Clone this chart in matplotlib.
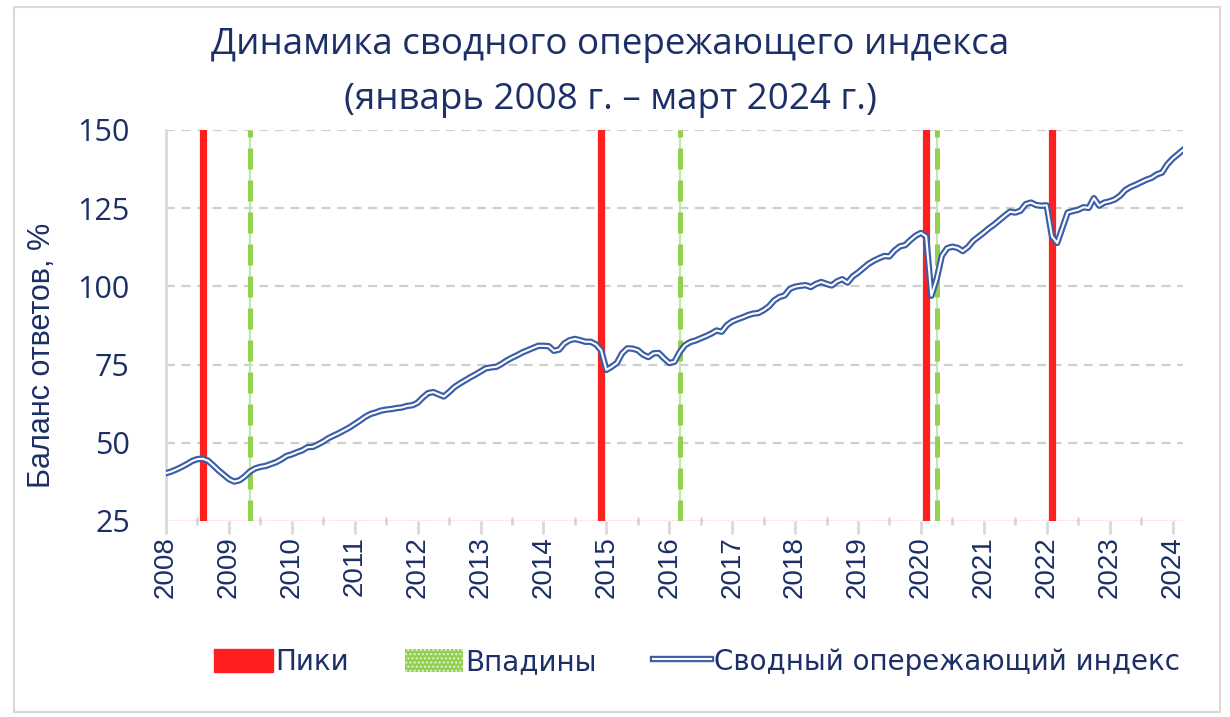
import numpy as np
import pandas as pd
import matplotlib
matplotlib.use("Agg")
import matplotlib.pyplot as plt
from matplotlib.patches import Patch, Rectangle
from matplotlib.lines import Line2D
from matplotlib.legend_handler import HandlerTuple

# ── Data ────────────────────────────────────────────────────────────────────
START = "2008-01"
# monthly values, one row per year
index_values = [
    40.3, 40.8, 41.5, 42.3, 43.2, 44.2, 44.8, 44.9, 44.3, 42.8, 41.2, 39.8,  # 2008
    38.4, 37.6, 38.0, 39.2, 40.8, 41.8, 42.3, 42.6, 43.2, 43.8, 44.7, 45.8,  # 2009
    46.3, 47.0, 47.6, 48.6, 48.7, 49.5, 50.4, 51.5, 52.3, 53.1, 54.0, 54.9,  # 2010
    56.0, 57.1, 58.3, 59.2, 59.7, 60.3, 60.6, 60.8, 61.1, 61.3, 61.8, 62.0,  # 2011
    62.8, 64.5, 65.9, 66.2, 65.5, 64.8, 66.2, 67.8, 68.9, 69.9, 70.9, 71.8,  # 2012
    72.8, 73.8, 74.1, 74.3, 75.2, 76.3, 77.2, 78.0, 78.9, 79.6, 80.3, 81.0,  # 2013
    81.0, 80.9, 79.4, 79.8, 81.8, 82.8, 83.2, 82.8, 82.3, 82.3, 81.5, 79.6,  # 2014
    73.3, 74.3, 75.5, 78.6, 80.2, 80.1, 79.6, 78.2, 77.4, 78.6, 78.7, 77.0,  # 2015
    75.5, 75.9, 79.0, 81.2, 82.2, 82.7, 83.4, 84.1, 84.9, 85.9, 85.5, 87.6,  # 2016
    88.8, 89.5, 90.1, 90.8, 91.3, 91.5, 92.4, 93.6, 95.5, 96.6, 97.1, 99.2,  # 2017
    99.9, 100.2, 100.4, 99.8, 100.8, 101.4, 100.8, 100.3, 101.6, 102.3, 101.2, 103.2,  # 2018
    104.4, 105.8, 107.2, 108.2, 109.0, 109.7, 109.6, 111.5, 112.8, 113.2, 114.8, 116.2,  # 2019
    117.1, 116.0, 97.0, 102.3, 109.8, 112.2, 112.7, 112.3, 111.3, 112.6, 114.6, 115.9,  # 2020
    117.2, 118.6, 119.8, 121.2, 122.6, 123.9, 123.6, 124.2, 126.3, 126.8, 126.0, 125.8,  # 2021
    125.9, 116.0, 113.9, 118.8, 123.6, 124.1, 124.5, 125.3, 125.1, 128.2, 125.8, 126.8,  # 2022
    127.2, 127.8, 129.0, 130.8, 131.8, 132.5, 133.3, 134.1, 134.7, 135.8, 136.4, 139.0,  # 2023
    140.8, 142.2, 143.6,  # 2024
]
peaks = ["2008-08", "2014-12", "2020-02", "2022-02"]
troughs = ["2009-05", "2016-03", "2020-04"]
year_ticks = list(range(2008, 2025))
y_ticks = [25, 50, 75, 100, 125, 150]

title_lines = ["Динамика сводного опережающего индекса",
               "(январь 2008 г. – март 2024 г.)"]
y_label = "Баланс ответов, %"
legend_labels = ["Пики", "Впадины", "Сводный опережающий индекс"]

NAVY = "#1c2f66"
RED = "#ff1f1f"
GREEN = "#92d050"
BLUE = "#3b5ea6"
GRID = "#cfcfcf"


def to_decimal(ym):
    d = pd.Timestamp(ym)
    return d.year + (d.month - 1) / 12


dates = pd.date_range(START, periods=len(index_values), freq="MS")
x = dates.year + (dates.month - 1) / 12

fig = plt.figure(figsize=(12.3, 7.17), dpi=100)
fig.patches.append(Rectangle((14 / 1230, 1 - 712 / 717), 1206 / 1230, 705 / 717,
                             transform=fig.transFigure, fill=False,
                             edgecolor="#d9d9d9", linewidth=1.5))

ax = fig.add_axes([166 / 1230, 1 - 521 / 717, (1183 - 166) / 1230, (521 - 130) / 717])
ax.set_xlim(2008, x[-1])
ax.set_ylim(25, 150)

for v in y_ticks[1:]:
    ax.axhline(v, color=GRID, linestyle=(0, (4, 3)), linewidth=1.6, zorder=1)
ax.axhline(25, color=RED, linestyle=(0, (1, 1)), linewidth=1.0, zorder=2)

for p in peaks:
    ax.axvline(to_decimal(p), color=RED, linewidth=5.2, zorder=3)
for t in troughs:
    ax.axvline(to_decimal(t), color="#c6e6a8", linewidth=1.5, zorder=3)
    ax.axvline(to_decimal(t), color=GREEN, linewidth=3.6,
               linestyle=(0, (4.2, 2.2)), zorder=3)

outer, = ax.plot(x, index_values, color=BLUE, linewidth=4.6,
                 solid_joinstyle="round", zorder=4)
inner, = ax.plot(x, index_values, color="white", linewidth=1.5,
                 solid_joinstyle="round", zorder=5)

ax.set_yticks(y_ticks)
ax.set_yticklabels([str(v) for v in y_ticks], fontsize=22, color=NAVY,
                   family="Open Sans")
ax.tick_params(axis="y", length=0, pad=26)

ax.set_xticks(year_ticks)
ax.set_xticks([yr + 0.5 for yr in year_ticks[:-1]], minor=True)
ax.set_xticklabels([str(yr) for yr in year_ticks], rotation=90, fontsize=20,
                   color=NAVY, family="Liberation Sans")
ax.tick_params(axis="x", which="major", length=9, width=2, color="#d9d9d9", pad=2)
ax.tick_params(axis="x", which="minor", length=6, width=2, color="#d9d9d9",
               direction="inout")

for s in ["top", "right", "bottom"]:
    ax.spines[s].set_visible(False)
ax.spines["left"].set_color("#d9d9d9")
ax.spines["left"].set_linewidth(2)

fig.text(42 / 1230, 1 - 355 / 717, y_label, rotation=90, ha="center", va="center",
         fontsize=22, color=NAVY, family="Liberation Sans")

fig.text(610 / 1230, 1 - 45 / 717, title_lines[0], ha="center", va="center",
         fontsize=26.5, color=NAVY, family="Open Sans")
fig.text(610 / 1230, 1 - 100 / 717, title_lines[1], ha="center", va="center",
         fontsize=26.5, color=NAVY, family="Open Sans")

handles = [
    Patch(facecolor=RED, edgecolor=RED),
    Patch(facecolor=GREEN, edgecolor="#e3f3d2", hatch="....", linewidth=0),
    (Line2D([], [], color=BLUE, linewidth=4.6), Line2D([], [], color="white", linewidth=1.5)),
]
fig.legend(handles, legend_labels, loc="center", bbox_to_anchor=(697 / 1230, 1 - 662 / 717),
           ncol=3, frameon=False, prop={"family": "DejaVu Sans", "size": 20},
           labelcolor=NAVY, handlelength=2.1, handleheight=0.9, handletextpad=0.1,
           columnspacing=2.0, handler_map={tuple: HandlerTuple(ndivide=1)})

fig.savefig("out.png", dpi=100)
